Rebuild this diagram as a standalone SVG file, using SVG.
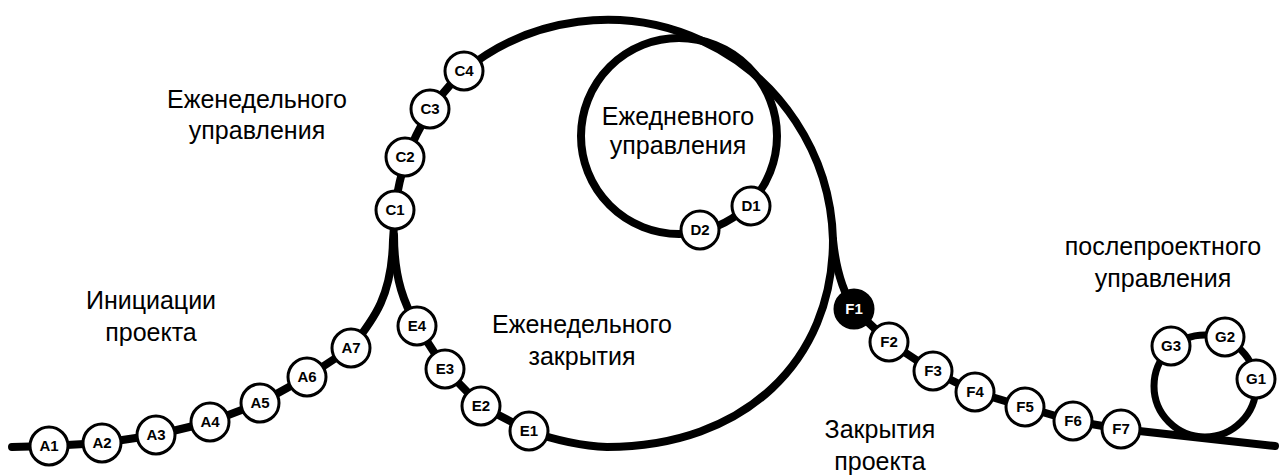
<svg xmlns="http://www.w3.org/2000/svg" width="1281" height="475" viewBox="0 0 1281 475">
<style>
.ln{fill:none;stroke:#000;stroke-width:8;stroke-linecap:round;stroke-linejoin:round}
.nd circle{fill:#fff;stroke:#000;stroke-width:3}
.nd text{font-family:"Liberation Sans",Arial,sans-serif;font-weight:bold;font-size:15px;text-anchor:middle;fill:#000}
.dark circle{fill:#000}
.dark text{fill:#fff}
.lbl{font-family:"Liberation Sans",Arial,sans-serif;font-size:25px;text-anchor:middle;fill:#000}
</style>
<rect width="1281" height="475" fill="#fff"/>
<g id="connectors">
<path class="ln" d="M12 447 L49 446 L102 443 L156 435 L210 422 L260 403 L307 377 L351 348 C375 318 392 295 393 240 L395 212"/>
<path class="ln" d="M395 212 A218 218 0 0 1 464 71 A226 226 0 0 1 833 240"/>
<path class="ln" d="M833 240 C836 270 843 292 854 309 L889 342 L933 371 L975 392 L1025 407 L1073 421 L1121 429 L1275 446"/>
<path class="ln" d="M833 240 C833 360 745 447 607 447 C580 446 555 440 529 431 L481 406 L445 369 L417 326 C405 305 394 280 394 235"/>
<circle class="ln" cx="679" cy="136" r="98"/>
<circle class="ln" cx="1205" cy="386" r="51" style="stroke-width:7"/>
</g>
<g id="labels">
<text class="lbl" x="257" y="108">Еженедельного</text>
<text class="lbl" x="257" y="139">управления</text>
<text class="lbl" x="678" y="125">Ежедневного</text>
<text class="lbl" x="678" y="154">управления</text>
<text class="lbl" x="151" y="309">Инициации</text>
<text class="lbl" x="151" y="341">проекта</text>
<text class="lbl" x="582" y="333">Еженедельного</text>
<text class="lbl" x="582" y="365">закрытия</text>
<text class="lbl" x="880" y="438">Закрытия</text>
<text class="lbl" x="880" y="470">проекта</text>
<text class="lbl" x="1163" y="255">послепроектного</text>
<text class="lbl" x="1163" y="287">управления</text>
</g>
<g id="A1" class="nd"><circle cx="49" cy="446" r="19"/><text x="49" y="451">A1</text></g>
<g id="A2" class="nd"><circle cx="102" cy="443" r="19"/><text x="102" y="448">A2</text></g>
<g id="A3" class="nd"><circle cx="156" cy="435" r="19"/><text x="156" y="440">A3</text></g>
<g id="A4" class="nd"><circle cx="210" cy="422" r="19"/><text x="210" y="427">A4</text></g>
<g id="A5" class="nd"><circle cx="260" cy="403" r="19"/><text x="260" y="408">A5</text></g>
<g id="A6" class="nd"><circle cx="307" cy="377" r="19"/><text x="307" y="382">A6</text></g>
<g id="A7" class="nd"><circle cx="351" cy="348" r="19"/><text x="351" y="353">A7</text></g>
<g id="C1" class="nd"><circle cx="395" cy="210" r="19"/><text x="395" y="215">C1</text></g>
<g id="C2" class="nd"><circle cx="405" cy="157" r="19"/><text x="405" y="162">C2</text></g>
<g id="C3" class="nd"><circle cx="430" cy="109" r="19"/><text x="430" y="114">C3</text></g>
<g id="C4" class="nd"><circle cx="464" cy="71" r="19"/><text x="464" y="76">C4</text></g>
<g id="D1" class="nd"><circle cx="751" cy="206" r="19"/><text x="751" y="211">D1</text></g>
<g id="D2" class="nd"><circle cx="700" cy="230" r="19"/><text x="700" y="235">D2</text></g>
<g id="E1" class="nd"><circle cx="529" cy="431" r="19"/><text x="529" y="436">E1</text></g>
<g id="E2" class="nd"><circle cx="481" cy="406" r="19"/><text x="481" y="411">E2</text></g>
<g id="E3" class="nd"><circle cx="445" cy="369" r="19"/><text x="445" y="374">E3</text></g>
<g id="E4" class="nd"><circle cx="417" cy="326" r="19"/><text x="417" y="331">E4</text></g>
<g id="F1" class="nd dark"><circle cx="854" cy="309" r="19"/><text x="854" y="314">F1</text></g>
<g id="F2" class="nd"><circle cx="889" cy="342" r="19"/><text x="889" y="347">F2</text></g>
<g id="F3" class="nd"><circle cx="933" cy="371" r="19"/><text x="933" y="376">F3</text></g>
<g id="F4" class="nd"><circle cx="975" cy="392" r="19"/><text x="975" y="397">F4</text></g>
<g id="F5" class="nd"><circle cx="1025" cy="407" r="19"/><text x="1025" y="412">F5</text></g>
<g id="F6" class="nd"><circle cx="1073" cy="421" r="19"/><text x="1073" y="426">F6</text></g>
<g id="F7" class="nd"><circle cx="1121" cy="429" r="19"/><text x="1121" y="434">F7</text></g>
<g id="G1" class="nd"><circle cx="1256" cy="379" r="19"/><text x="1256" y="384">G1</text></g>
<g id="G2" class="nd"><circle cx="1225" cy="337" r="19"/><text x="1225" y="342">G2</text></g>
<g id="G3" class="nd"><circle cx="1171" cy="346" r="19"/><text x="1171" y="351">G3</text></g>
</svg>
